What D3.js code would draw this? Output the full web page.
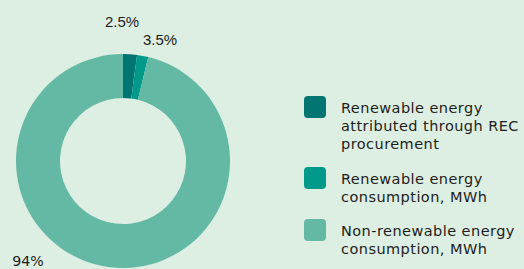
<!DOCTYPE html>
<html lang="en">
<head>
    <meta charset="UTF-8">
    <title>Energy consumption donut</title>
    <script src="https://d3js.org/d3.v7.min.js"></script>
    <style>
        html, body { margin: 0; padding: 0; background: #ddeee2; }
        svg { display: block; }
        .pct { font-family: 'Liberation Sans', Arial, sans-serif; font-size: 15px; fill: #1d1d1b; }
        .legend text { font-family: 'DejaVu Sans', sans-serif; font-size: 14.5px; letter-spacing: 0.45px; fill: #1d1d1b; }
    </style>
</head>
<body>
    <svg width="524" height="269"></svg>
    <script>
        // slice sizes as drawn in the picture, and the printed labels
        const categories = [
            ["Renewable energy", "attributed through REC", "procurement"],
            ["Renewable energy", "consumption, MWh"],
            ["Non-renewable energy", "consumption, MWh"]
        ];
        const values = [2.1, 1.7, 96.2];
        const pctLabels = ["2.5%", "3.5%", "94%"];
        const colors = ["#007571", "#00998a", "#64b9a5"];

        const svg = d3.select("svg");
        const cx = 123, cy = 161, outerR = 107, innerR = 63;

        const pie = d3.pie().sort(null).value(d => d);
        const arc = d3.arc().innerRadius(innerR).outerRadius(outerR);
        const arcs = pie(values);

        const g = svg.append("g").attr("transform", `translate(${cx},${cy})`);
        g.selectAll("path")
            .data(arcs)
            .enter()
            .append("path")
            .attr("d", arc)
            .attr("fill", (d, i) => colors[i]);

        // percentage labels (placed by hand like in the original)
        const labelPos = [[122, 27], [160, 45], [28, 266]];
        svg.selectAll("text.pct")
            .data(pctLabels)
            .enter()
            .append("text")
            .attr("class", "pct")
            .attr("x", (d, i) => labelPos[i][0])
            .attr("y", (d, i) => labelPos[i][1])
            .attr("text-anchor", "middle")
            .style("font-family", (d, i) => i == 2 ? "'DejaVu Sans', sans-serif" : null)
            .style("font-size", (d, i) => i == 2 ? "14.2px" : null)
            .text(d => d);

        // legend
        const legendTops = [96, 167, 219];
        const legend = svg.append("g").attr("class", "legend");
        categories.forEach((lines, i) => {
            legend.append("rect")
                .attr("x", 304)
                .attr("y", legendTops[i])
                .attr("width", 22)
                .attr("height", 22)
                .attr("rx", 4)
                .attr("fill", colors[i]);
            const t = legend.append("text")
                .attr("x", 341)
                .attr("y", legendTops[i] + 16.5);
            lines.forEach((line, j) => {
                t.append("tspan")
                    .attr("x", 341)
                    .attr("dy", j == 0 ? 0 : 18.3)
                    .text(line);
            });
        });
    </script>
</body>
</html>
